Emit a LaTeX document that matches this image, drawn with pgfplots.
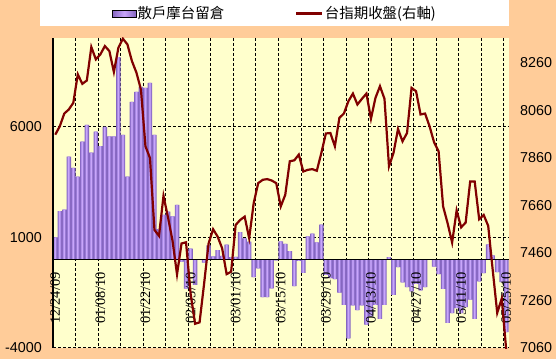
\documentclass[border=0pt]{standalone}
\usepackage{fontspec}
\setmainfont{Liberation Sans}
\newfontfamily\cjk{Noto Sans CJK TC}
\newfontfamily\datefont{Liberation Serif}
\usepackage{pgfplots}
\usepackage{pgfplotstable}
\pgfplotsset{compat=1.18}
\definecolor{peach}{HTML}{FFCC99}
\definecolor{plotbg}{HTML}{FFFFCC}
\definecolor{barD}{HTML}{8566C0}
\definecolor{barM}{HTML}{A585E2}
\definecolor{barL}{HTML}{C9A6FA}
\definecolor{lineRed}{HTML}{800000}

\pgfplotstableread{
k oi px
0 1000 7958
1 2180 7993
2 2250 8047
3 4640 8064
4 4140 8092
5 3740 8212
6 5315 8172
7 6080 8186
8 4820 8327
9 5770 8275
10 5120 8296
11 5990 8331
12 5560 8310
13 5560 8222
14 9140 8324
15 5620 8362
16 3740 8338
17 7120 8268
18 7570 8219
19 7790 8148
20 7750 7909
21 7970 7860
22 5620 7557
23 1370 7532
24 2010 7700
25 2160 7610
26 1940 7512
27 2460 7370
28 -100 7500
29 -1320 7505
30 490 7290
31 -1150 7162
32 0 7168
33 -140 7330
34 640 7500
35 140 7560
36 415 7529
37 160 7480
38 665 7371
39 100 7381
40 120 7578
41 1230 7599
42 950 7613
43 800 7522
44 -800 7670
45 -400 7754
46 -1700 7768
47 -1700 7771
48 -1310 7765
49 -40 7754
50 815 7656
51 705 7705
52 370 7846
53 -1210 7850
54 -70 7874
55 -610 7803
56 1045 7810
57 1165 7813
58 775 7806
59 1575 7881
60 -700 7963
61 -850 7965
62 -890 7909
63 -1500 8029
64 -2050 8047
65 -3570 8099
66 -2080 8131
67 -2290 8085
68 -2080 8109
69 -2950 8131
70 -2570 8025
71 -2050 8113
72 -2680 8162
73 -2050 8109
74 100 7825
75 -1600 7881
76 -350 7982
77 -1040 7930
78 -1250 7965
79 -1440 8155
80 -1100 8141
81 -1400 8043
82 -1250 8047
83 0 7993
84 -320 7926
85 -660 7888
86 -1330 7656
87 -2860 7585
88 -2420 7504
89 -2200 7639
90 -2420 7568
91 -2150 7588
92 -1820 7761
93 -2690 7761
94 -990 7602
95 -615 7620
96 680 7574
97 185 7388
98 -570 7208
99 -1030 7268
100 -3280 7050
}\data

\begin{document}
\begin{tikzpicture}
\fill[peach] (0,0) rectangle (556bp,359bp);
\fill[white] (40bp,333bp) rectangle (509bp,359bp);
\fill[plotbg] (53bp,11bp) rectangle (508.5bp,321bp);
\foreach \xx in {75.5,98.5,120.5,143.5,165.5,188.5,210.5,233.5,255.5,278.5,301.5,323.5,346.5,368.5,391.5,413.5,436.5,458.5,481.5,503.5} {
  \draw[black, line width=1.3bp, dash pattern=on 3bp off 2bp] (\xx bp,321bp) -- (\xx bp,11bp);
}
\foreach \yy in {11.8,121.5,232.5} {
  \draw[black, line width=1.3bp, dash pattern=on 3bp off 2bp] (53bp,\yy bp) -- (508.5bp,\yy bp);
}
\begin{axis}[
  at={(53bp,11bp)}, anchor=south west,
  scale only axis, width=455.5bp, height=310bp,
  xmin=-0.5, xmax=100.5, ymin=-4000, ymax=10000,
  axis on top,
  axis x line*=middle, axis y line*=left,
  axis line style={black, line width=1.2bp},
  xtick={0,10,...,100},
  xticklabels={12/24/09,01/08/10,01/22/10,02/05/10,03/01/10,03/15/10,03/29/10,04/13/10,04/27/10,05/11/10,05/25/10},
  ytick={-4000,1000,6000},
  scaled y ticks=false,
  major tick length=0pt,
  hide obscured x ticks=false,
  xticklabel style={font=\datefont\fontsize{14.5}{16}\selectfont, rotate=90, anchor=east, inner sep=0pt},
  xticklabel shift=12.7bp,
  yticklabel style={font=\fontsize{14.4}{16}\selectfont, anchor=east, inner sep=0pt, xshift=-11bp},
  /pgf/number format/assume math mode=true,
  /pgf/number format/1000 sep={},
]
\addplot[ybar, bar shift=0pt, bar width=1, draw=none, fill=barD] table[x=k,y=oi]{\data};
\addplot[ybar, bar shift=0pt, bar width=0.6, draw=none, fill=barM] table[x=k,y=oi]{\data};
\addplot[ybar, bar shift=0pt, bar width=0.28, draw=none, fill=barL] table[x=k,y=oi]{\data};
\end{axis}
\begin{axis}[
  at={(53bp,11bp)}, anchor=south west,
  scale only axis, width=455.5bp, height=310bp,
  xmin=-0.5, xmax=100.5, ymin=7060, ymax=8365,
  axis line style={draw=none},
  xtick=\empty,
  ytick={7060,7260,...,8260},
  yticklabel pos=right,
  scaled y ticks=false,
  major tick length=0pt,
  yticklabel style={font=\fontsize{14.4}{16}\selectfont, anchor=west, inner sep=0pt, xshift=11.5bp},
  /pgf/number format/assume math mode=true,
  /pgf/number format/1000 sep={},
  legend style={at={(0.1295,1.079)}, anchor=west, draw=none, fill=none, inner sep=0pt,
    legend columns=2, font=\cjk\fontsize{14.5}{16}\selectfont,
    nodes={inner sep=1.5bp},
    /tikz/every even column/.append style={column sep=69.5bp}},
  legend cell align=left,
]
\addlegendimage{legend image code/.code={\fill[left color=barD,right color=barD,middle color=barL] (0bp,-3.2bp) rectangle (23.5bp,3.2bp);}}
\addlegendentry{散戶摩台留倉}
\addplot[lineRed, line width=2.2bp, mark=none, legend image code/.code={\draw[lineRed, line width=2.2bp] (0bp,0bp) -- (26bp,0bp);}] table[x=k,y=px]{\data};
\addlegendentry{台指期收盤(右軸)}
\end{axis}
\pgfresetboundingbox
\path (0,0) rectangle (556bp,359bp);
\end{tikzpicture}
\end{document}
